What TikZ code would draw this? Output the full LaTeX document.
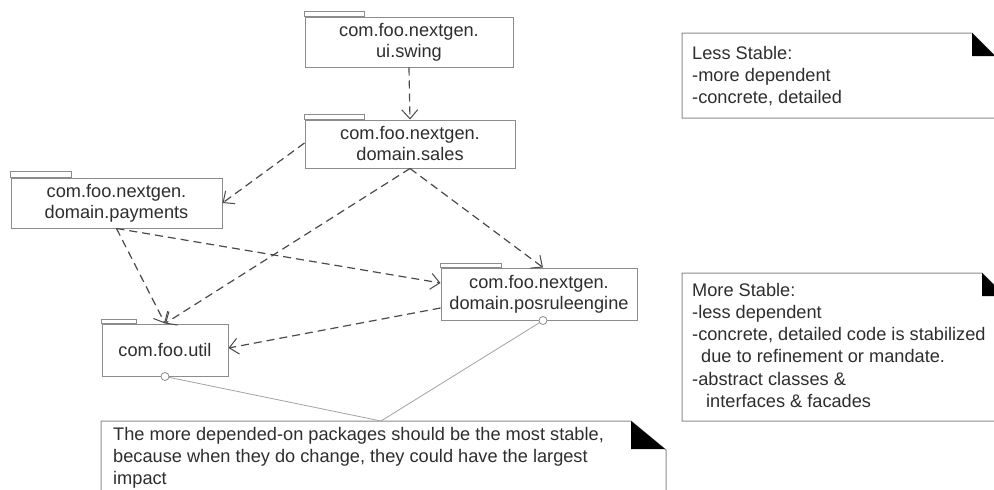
\documentclass[tikz,border=0pt]{standalone}
\usepackage{fontspec}
\setmainfont{Liberation Sans}
\usetikzlibrary{arrows.meta,calc}
\definecolor{boxgray}{HTML}{8C8C8C}
\definecolor{txt}{HTML}{2E2E2E}
\definecolor{depc}{HTML}{4A4A4A}
\begin{document}
\begin{tikzpicture}[x=1pt,y=-1pt,
  pkg/.style={draw=boxgray, line width=1pt, fill=white, align=center, inner sep=0pt, text=txt, font=\fontsize{18.2}{21}\selectfont},
  tabline/.style={draw=boxgray, line width=1pt},
  depline/.style={draw=depc, line width=1.2pt, dash pattern=on 8pt off 5pt, -{Straight Barb[length=9pt,width=16pt,line width=1pt]}},
  lolli/.style={draw=boxgray!80, line width=0.8pt},
  notebox/.style={draw=boxgray, line width=1pt, fill=white},
  notetext/.style={anchor=north west, inner sep=0pt, align=left, text=txt, font=\fontsize{18.2}{22.2}\selectfont}]
\useasboundingbox (0,0) rectangle (994,490);
\fill[white] (0,0) rectangle (994,490);

% packages
\node[pkg, minimum width=208pt, minimum height=50pt] (swing) at (409,42) {com.foo.nextgen.\\ui.swing};
\draw[tabline] (swing.north west) rectangle ++(60,-5);
\node[pkg, minimum width=210pt, minimum height=48pt] (sales) at (410,144) {com.foo.nextgen.\\domain.sales};
\draw[tabline] (sales.north west) rectangle ++(60,-5);
\node[pkg, minimum width=211pt, minimum height=50pt] (pay) at (116.5,203) {com.foo.nextgen.\\domain.payments};
\draw[tabline] (pay.north west) rectangle ++(61,-6);
\node[pkg, minimum width=196pt, minimum height=52pt] (rule) at (539,294) {com.foo.nextgen.\\domain.posruleengine};
\draw[tabline] (rule.north west) rectangle ++(61,-4);
\node[pkg, minimum width=126pt, minimum height=52pt] (util) at (165,350) {com.foo.util};
\draw[tabline] (util.north west) rectangle ++(35,-4);

% dependencies
\draw[depline] (swing.south) -- (sales.north);
\draw[depline] ([yshift=1pt]sales.west) -- (pay.east);
\draw[depline] (sales.south) -- ([xshift=4pt]rule.north);
\draw[depline] (sales.south) -- (util.north);
\draw[depline] (pay.south) -- (util.north);
\draw[depline] (pay.south) -- ([yshift=11pt]rule.west);
\draw[depline] ([yshift=-14pt]rule.west) -- ([yshift=2pt]util.east);

% notes
\path[notebox] (682,33) -- (972,33) -- (996,57) -- (996,118) -- (682,118) -- cycle;
\fill[black] (972,33) -- (972,56) -- (995,56) -- cycle;
\node[notetext] (less) at (692,46) {Less Stable:\\-more dependent\\-concrete, detailed};

\path[notebox] (682,273) -- (982,273) -- (1006,297) -- (1006,421) -- (682,421) -- cycle;
\fill[black] (982,273) -- (982,296) -- (1005,296) -- cycle;
\node[notetext] (more) at (692,283) {More Stable:\\-less dependent\\-concrete, detailed code is stabilized\\\hspace*{9pt}due to refinement or mandate.\\-abstract classes \&\\\hspace*{14pt}interfaces \& facades};

\path[notebox] (101,421) -- (631,421) -- (666,450) -- (666,495) -- (101,495) -- cycle;
\fill[black] (631,421) -- (631,449) -- (665,449) -- cycle;
\node[notetext, font=\fontsize{18.2}{22.2}\selectfont] (impact) at (113,427) {The more depended-on packages should be the most stable,\\because when they do change, they could have the largest\\impact};

% note links
\coordinate (nt) at (381,421);
\draw[lolli] (util.south) -- (nt) -- ([xshift=4pt]rule.south);
\draw[boxgray, line width=0.8pt, fill=white] (util.south) circle (4pt);
\draw[boxgray, line width=0.8pt, fill=white] ([xshift=4pt]rule.south) circle (4pt);
\end{tikzpicture}
\end{document}
